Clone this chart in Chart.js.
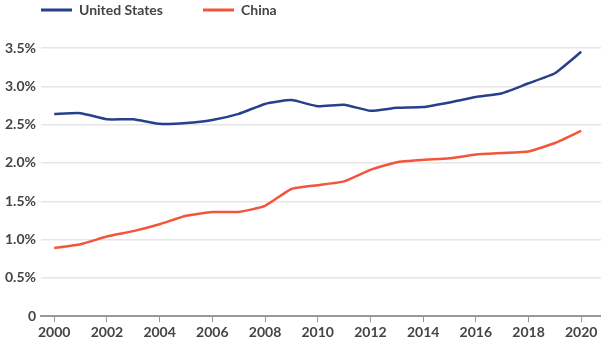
<!DOCTYPE html>
<html>
<head>
<meta charset="utf-8">
<script src="https://cdn.jsdelivr.net/npm/chart.js@4/dist/chart.umd.min.js"></script>
<style>
  html, body { margin: 0; padding: 0; background: #fff; }
  #wrap { width: 601px; height: 343px; }
</style>
</head>
<body>
<div id="wrap"><canvas id="myChart"></canvas></div>
<script>
// Años y valores (% del PIB)
const years = [2000, 2001, 2002, 2003, 2004, 2005, 2006, 2007, 2008, 2009, 2010,
               2011, 2012, 2013, 2014, 2015, 2016, 2017, 2018, 2019, 2020];
const usValues = [2.64, 2.65, 2.57, 2.57, 2.51, 2.52, 2.56, 2.64, 2.77, 2.82, 2.74,
                  2.76, 2.68, 2.72, 2.73, 2.79, 2.86, 2.91, 3.04, 3.17, 3.45];
const chinaValues = [0.89, 0.94, 1.04, 1.11, 1.20, 1.31, 1.36, 1.36, 1.44, 1.66, 1.71,
                     1.76, 1.91, 2.01, 2.04, 2.06, 2.11, 2.13, 2.15, 2.26, 2.42];
const yTicks = [0, 0.5, 1.0, 1.5, 2.0, 2.5, 3.0, 3.5];

function toPoints(vals) {
  return vals.map((v, i) => ({ x: years[i], y: v }));
}

const textColor = '#444';
const font = { family: 'Lato', size: 14, weight: 'bold' };

// Leyenda dibujada a mano (línea + texto) arriba a la izquierda
const topLegend = {
  id: 'topLegend',
  afterDraw(chart) {
    const c = chart.ctx;
    const starts = [41, 203];
    c.save();
    c.font = 'bold 14px Lato';
    c.textBaseline = 'middle';
    chart.data.datasets.forEach((ds, i) => {
      const x = starts[i];
      c.strokeStyle = ds.borderColor;
      c.lineWidth = 3;
      c.beginPath();
      c.moveTo(x, 10);
      c.lineTo(x + 31, 10);
      c.stroke();
      c.fillStyle = textColor;
      c.fillText(ds.label, x + 38, 10);
    });
    c.restore();
  }
};

const ctx = document.getElementById('myChart').getContext('2d');

new Chart(ctx, {
  type: 'line',
  data: {
    datasets: [{
      label: 'United States',
      data: toPoints(usValues),
      borderColor: '#27408b',
      borderWidth: 2.5,
      pointRadius: 0,
      tension: 0.15
    }, {
      label: 'China',
      data: toPoints(chinaValues),
      borderColor: '#f2553a',
      borderWidth: 2.5,
      pointRadius: 0,
      tension: 0.15
    }]
  },
  options: {
    responsive: true,
    maintainAspectRatio: false,
    animation: false,
    layout: { padding: { left: 0, right: 0, top: 48, bottom: 0 } },
    plugins: {
      legend: { display: false },
      tooltip: { enabled: false }
    },
    scales: {
      x: {
        type: 'linear',
        min: 1999.5,
        max: 2020.75,
        afterBuildTicks: (scale) => {
          scale.ticks = years.filter(y => y % 2 === 0).map(y => ({ value: y }));
        },
        grid: {
          drawOnChartArea: false,
          drawTicks: true,
          tickLength: 6,
          color: '#999'
        },
        border: { color: '#999', width: 2 },
        ticks: {
          color: textColor,
          font: font,
          padding: 2,
          maxRotation: 0,
          callback: (v) => String(v)
        }
      },
      y: {
        min: 0,
        max: 3.5,
        afterBuildTicks: (scale) => {
          scale.ticks = yTicks.map(v => ({ value: v }));
        },
        grid: {
          color: '#e6e6e6',
          lineWidth: 1.5,
          drawTicks: false
        },
        border: { display: false },
        ticks: {
          color: textColor,
          font: font,
          padding: 5,
          callback: (v) => v === 0 ? '0' : v.toFixed(1) + '%'
        }
      }
    }
  },
  plugins: [topLegend]
});
</script>
</body>
</html>
